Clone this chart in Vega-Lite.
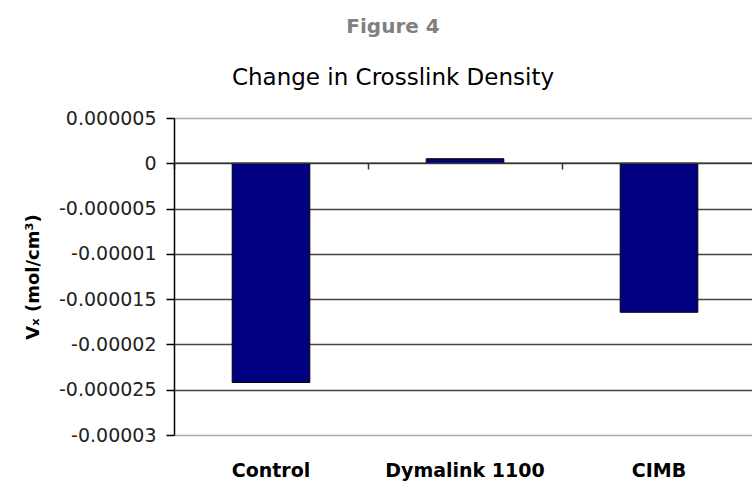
{
  "$schema": "https://vega.github.io/schema/vega-lite/v6.json",
  "autosize": "none",
  "width": 582,
  "height": 317,
  "padding": {"left": 174, "top": 118, "right": 0, "bottom": 50},
  "background": "white",
  "config": {"view": {"stroke": null}, "font": "DejaVu Sans"},
  "title": {
    "text": "Figure 4",
    "subtitle": "Change in Crosslink Density",
    "anchor": "middle",
    "dx": -72,
    "font": "DejaVu Sans",
    "fontSize": 20,
    "fontWeight": "bold",
    "color": "#808080",
    "subtitleFont": "DejaVu Sans",
    "subtitleFontSize": 23,
    "subtitleColor": "#000000",
    "subtitlePadding": 30,
    "offset": 19
  },
  "data": {
    "values": [
      {"group": "Control", "vx": -0.0000242},
      {"group": "Dymalink 1100", "vx": 0.0000005},
      {"group": "CIMB", "vx": -0.00001645}
    ]
  },
  "resolve": {"axis": {"x": "independent"}, "scale": {"x": "independent"}},
  "layer": [
    {
      "mark": {"type": "bar", "color": "#000080", "stroke": "#000000", "strokeWidth": 1},
      "encoding": {
        "x": {
          "field": "group",
          "type": "nominal",
          "sort": null,
          "scale": {"paddingInner": 0.6, "paddingOuter": 0.3},
          "axis": {
            "title": null,
            "orient": "bottom",
            "domain": false,
            "ticks": false,
            "labelAngle": 0,
            "labelFont": "DejaVu Sans",
            "labelFontWeight": "bold",
            "labelFontSize": 19,
            "labelColor": "#000000",
            "labelPadding": 26
          }
        },
        "y": {
          "field": "vx",
          "type": "quantitative",
          "scale": {"domain": [-0.00003, 0.000005], "nice": false, "zero": false},
          "axis": {
            "title": "Vₓ (mol/cm³)",
            "titleFont": "DejaVu Sans",
            "titleFontWeight": "bold",
            "titleFontSize": 18,
            "titleColor": "#000000",
            "titlePadding": 16,
            "values": [0.000005, 0, -0.000005, -0.00001, -0.000015, -0.00002, -0.000025, -0.00003],
            "labelExpr": "'' + datum.value",
            "labelFont": "DejaVu Sans",
            "labelFontSize": 19,
            "labelColor": "#222222",
            "labelPadding": 10,
            "tickSize": 8,
            "tickWidth": 1.5,
            "tickColor": "#000000",
            "domainColor": "#000000",
            "domainWidth": 1.5,
            "grid": true,
            "gridColor": {"condition": {"test": "datum.value == 0.000005 || datum.value == -0.00003", "value": "#aaaaaa"}, "value": "#444444"},
            "gridWidth": 1.5
          }
        }
      }
    },
    {
      "data": {"values": [{"z": 0}]},
      "mark": {"type": "rule", "color": "#333333", "strokeWidth": 1.5},
      "encoding": {"y": {"field": "z", "type": "quantitative"}}
    },
    {
      "mark": {"type": "bar", "opacity": 0},
      "encoding": {
        "x": {
          "field": "group",
          "type": "nominal",
          "sort": null,
          "scale": {"paddingInner": 0, "paddingOuter": 0},
          "axis": {
            "title": null,
            "orient": "bottom",
            "offset": -272,
            "labels": false,
            "domain": false,
            "ticks": true,
            "tickBand": "extent",
            "tickSize": 6,
            "tickWidth": 1.5,
            "tickColor": "#333333",
            "grid": false
          }
        },
        "y": {"field": "vx", "type": "quantitative"}
      }
    }
  ]
}
